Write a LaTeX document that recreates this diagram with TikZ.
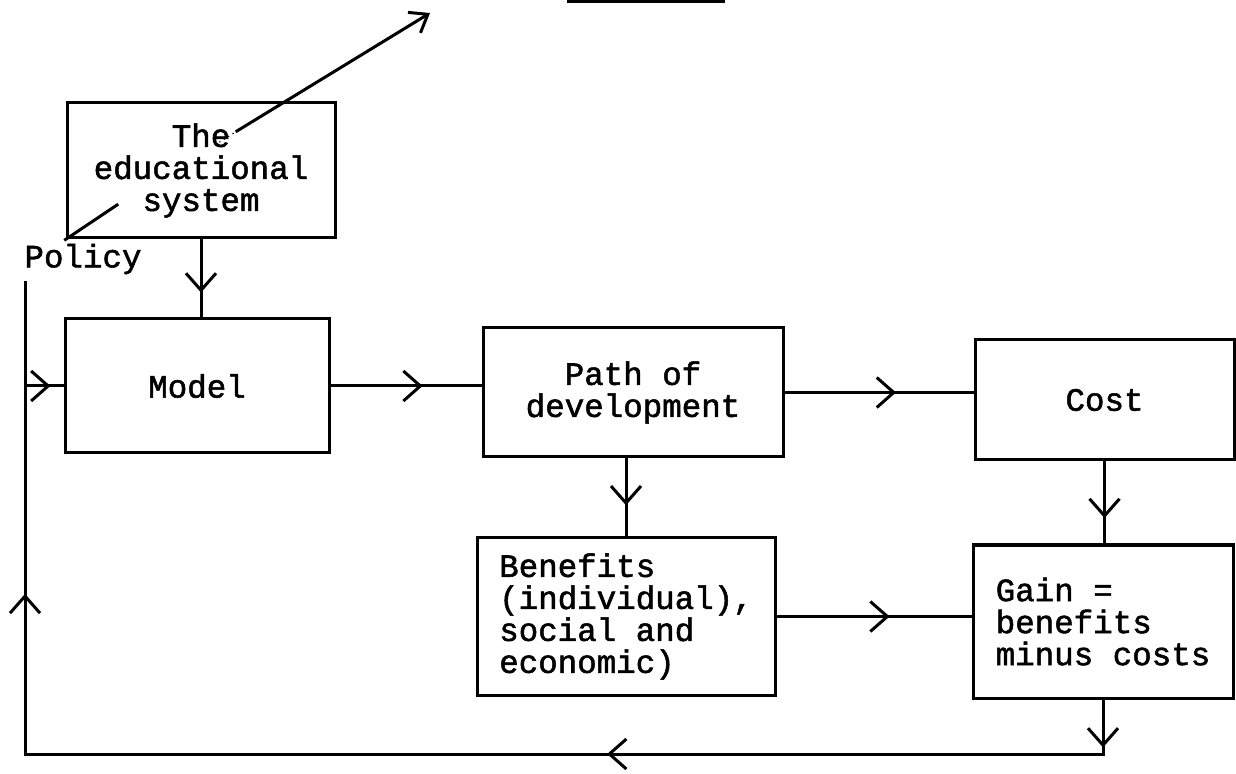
\documentclass[tikz,border=0pt]{standalone}
\usepackage{fontspec}
\setmonofont{Liberation Mono}[FakeBold=1.6]
\usetikzlibrary{arrows.meta, decorations.markings}
\newcommand{\diagfont}{\ttfamily\fontsize{16.25}{16}\selectfont}
\tikzset{
  box/.style={
    draw, line width=1.5pt, fill=white, inner sep=4pt,
    align=center, font=\diagfont
  },
  wire/.style={line width=1.5pt, line cap=rect},
  midarr/.style={
    wire, postaction={decorate},
    decoration={markings, mark=at position #1 with
      {\arrow[line width=1.5pt]{Straight Barb[length=8.5pt, width=15pt]}}}
  },
  midarr/.default=0.6,
  lbl/.style={font=\diagfont, inner sep=0pt},
}

\begin{document}
\begin{tikzpicture}[x=0.5pt, y=-0.5pt]
  \path[use as bounding box, fill=white] (0,0) rectangle (1236,774);

  \node[box, minimum width=134pt, minimum height=67.5pt] (edu) at (201,170.5)
    {The\\educational\\system};
  \node[box, minimum width=132pt, minimum height=67pt] (model) at (197,386) {Model};
  \node[box, minimum width=150pt, minimum height=64.5pt] (devpath) at (633,392.5)
    {Path of\\development};
  \node[box, minimum width=129.5pt, minimum height=60pt] (cost) at (1104.5,400) {Cost};
  \node[box, align=left, minimum width=149pt, minimum height=78.5pt] (benefit) at (626,616.5)
    {Benefits\\(individual),\\social and\\economic)};
  \node[box, align=left, minimum width=130pt, minimum height=76.5pt] (gain) at (1103,621.5)
    {Gain =\\benefits\\minus costs};
  \node[lbl] (policy) at (83,259) {Policy};

  \draw[midarr=0.68] (edu.south) -- (edu.south |- model.north);
  \draw[midarr=0.61] (model.east) -- (model.east -| devpath.west);
  \draw[midarr=0.59] (devpath.east) -- (devpath.east -| cost.west);
  \draw[midarr=0.6] (devpath.south -| benefit.north) -- (benefit.north);
  \draw[midarr=0.69] (cost.south) -- (cost.south |- gain.north);
  \draw[midarr=0.58] (benefit.east) -- (benefit.east -| gain.west);

  \coordinate (loopR) at (gain.south |- 0,754);
  \coordinate (loopL) at (25,754);
  \coordinate (loopT) at (25,283);
  \draw[midarr=0.88] (gain.south) -- (loopR);
  \draw[midarr=0.46] (loopR) -- (loopL);
  \draw[midarr=0.34] (loopL) -- (loopT);
  \draw[midarr=0.66] (loopL |- model.west) -- (model.west);

  \coordinate (polA) at (117,205);
  \coordinate (polB) at (215,145);
  \coordinate (polC) at (237,131);
  \coordinate (polTip) at (430,13);
  \draw[wire] (edu.south west) -- (polA);
  \draw[line width=0.6pt, dotted] (polB) -- (polC);
  \draw[wire, -{Straight Barb[length=8pt, width=12pt]}] (polC) -- (polTip);

  \draw[line width=2.5pt] (567,1) -- (725,1);
\end{tikzpicture}
\end{document}
